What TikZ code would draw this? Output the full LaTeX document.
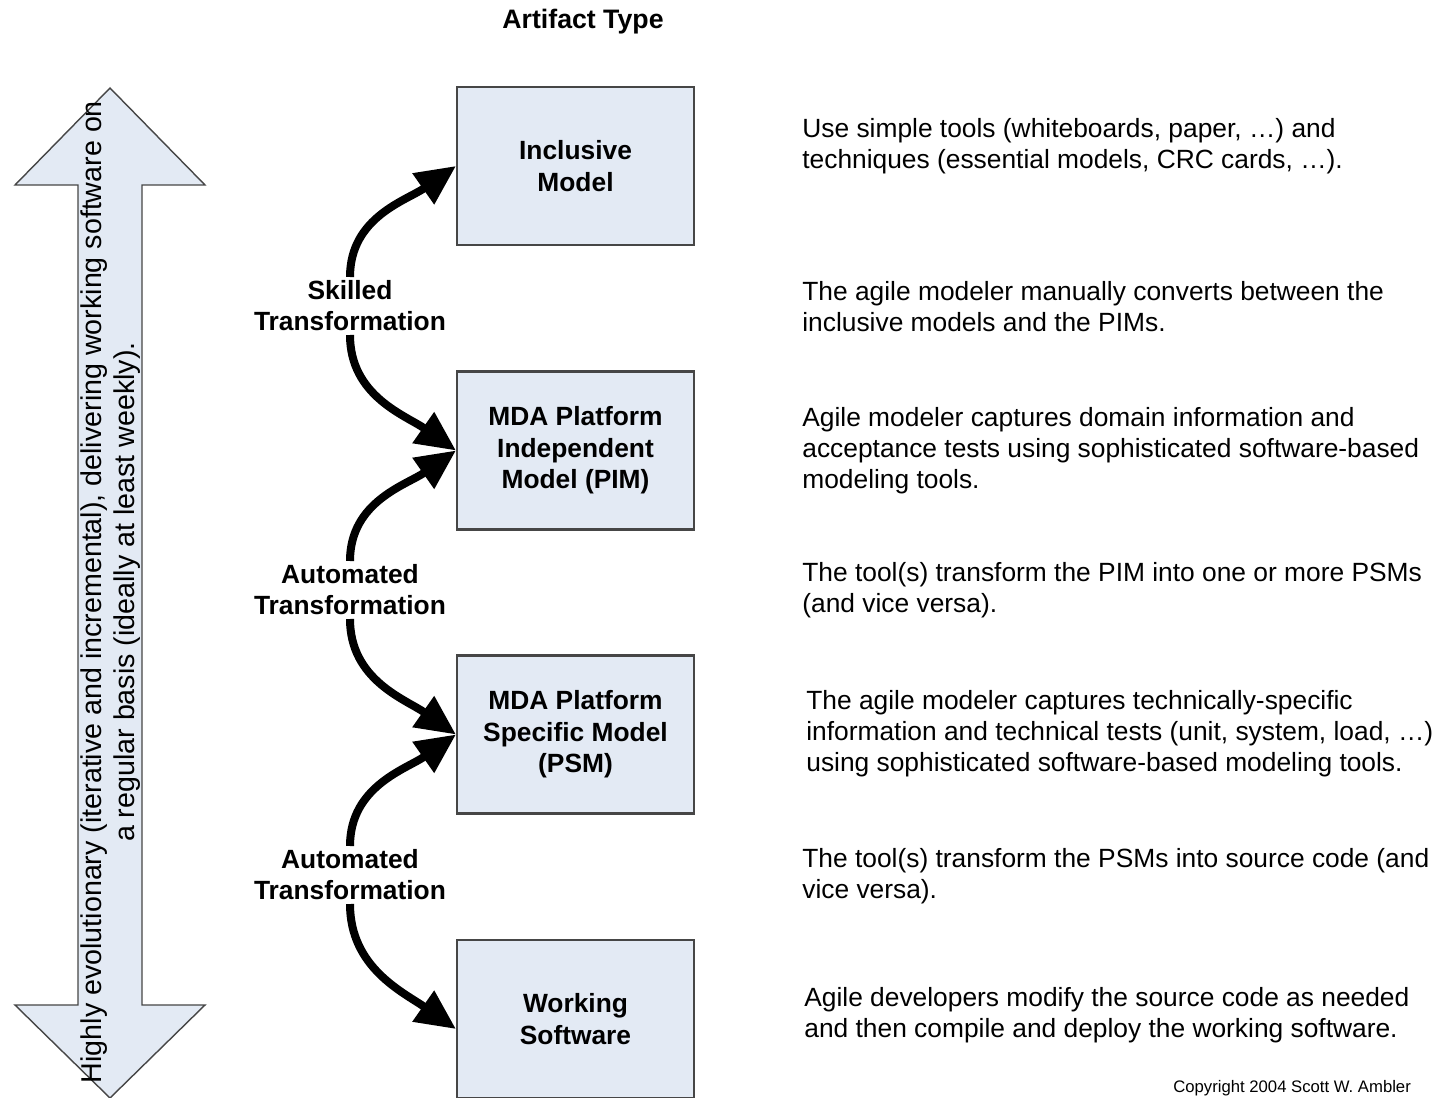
\documentclass[tikz,border=0pt]{standalone}
\usepackage{fontspec}
\setmainfont{Liberation Sans}
\usetikzlibrary{arrows.meta,positioning}
\definecolor{boxfill}{RGB}{227,234,244}
\definecolor{boxline}{RGB}{70,70,70}
\begin{document}
\begin{tikzpicture}[x=0.02cm,y=0.02cm,
    artifact/.style={draw=boxline,fill=boxfill,line width=1.2pt,minimum width=4.74cm,minimum height=3.16cm,align=center,font=\fontsize{15}{18}\selectfont\bfseries},
    trans/.style={align=center,inner sep=2pt,font=\fontsize{15}{17.6}\selectfont\bfseries},
    note/.style={anchor=west,align=left,inner sep=0pt,font=\fontsize{15}{17.6}\selectfont},
    bigarrow/.style={-{Triangle[length=0.8cm,width=0.72cm]},line width=0.16cm}]
    \clip (0,0) rectangle (1443,-1098);
    \fill[white] (0,0) rectangle (1443,-1098);

    % double arrow on the left
    \draw[boxline,fill=boxfill,line width=0.8pt] (110,-88) -- (205,-185) -- (142,-185) -- (142,-1005) -- (205,-1005)
        -- (110,-1098) -- (15,-1005) -- (78,-1005) -- (78,-185) -- (15,-185) -- cycle;
    \node[rotate=90,align=center,font=\fontsize{16.3}{18.8}\selectfont] (cadence) at (111,-592)
        {Highly evolutionary (iterative and incremental), delivering working software on\\a regular basis (ideally at least weekly).};

    \node[font=\fontsize{15.2}{18}\selectfont\bfseries] (title) at (583,-22) {Artifact Type};

    % artifacts
    \node[artifact] (inclusive) at (575.5,-166) {Inclusive\\Model};
    \node[artifact] (pim) at (575.5,-450.5) {MDA Platform\\Independent\\Model (PIM)};
    \node[artifact] (psm) at (575.5,-734.5) {MDA Platform\\Specific Model\\(PSM)};
    \node[artifact] (working) at (575.5,-1019) {Working\\Software};

    % transformations
    \node[trans] (skilled) at (350,-306) {Skilled\\Transformation};
    \node[trans] (autoa) at (350,-590) {Automated\\Transformation};
    \node[trans] (autob) at (350,-875) {Automated\\Transformation};

    \draw[bigarrow] (skilled.north) to[out=90,in=215] (inclusive.west);
    \draw[bigarrow] (skilled.south) to[out=-90,in=145] (pim.west);
    \draw[bigarrow] (autoa.north) to[out=90,in=215] (pim.west);
    \draw[bigarrow] (autoa.south) to[out=-90,in=145] (psm.west);
    \draw[bigarrow] (autob.north) to[out=90,in=215] (psm.west);
    \draw[bigarrow] (autob.south) to[out=-90,in=145] ([yshift=-0.2cm]working.west);

    % descriptions
    \node[note] (n1) at (802,-146.5) {Use simple tools (whiteboards, paper, …) and\\techniques (essential models, CRC cards, …).};
    \node[note] (n2) at (802,-306.5) {The agile modeler manually converts between the\\inclusive models and the PIMs.};
    \node[note] (n3) at (802,-450.5) {Agile modeler captures domain information and\\acceptance tests using sophisticated software-based\\modeling tools.};
    \node[note] (n4) at (802,-590.5) {The tool(s) transform the PIM into one or more PSMs\\(and vice versa).};
    \node[note] (n5) at (806,-733.5) {The agile modeler captures technically-specific\\information and technical tests (unit, system, load, …)\\using sophisticated software-based modeling tools.};
    \node[note] (n6) at (802,-876.5) {The tool(s) transform the PSMs into source code (and\\vice versa).};
    \node[note] (n7) at (804,-1015.5) {Agile developers modify the source code as needed\\and then compile and deploy the working software.};

    \node[anchor=west,inner sep=0pt,font=\fontsize{9.5}{11}\selectfont] (copy) at (1173,-1088) {Copyright 2004 Scott W. Ambler};
\end{tikzpicture}
\end{document}
